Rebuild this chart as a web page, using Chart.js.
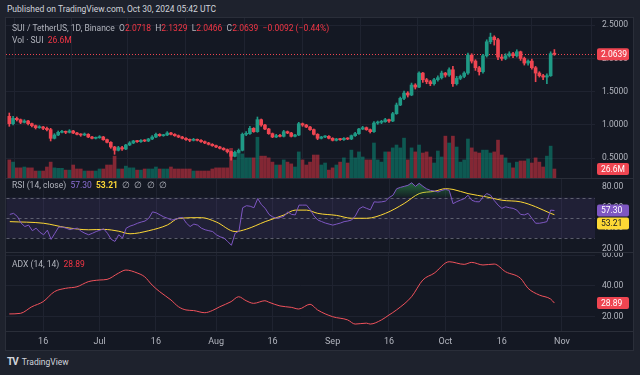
<!DOCTYPE html>
<html>
<head>
<meta charset="utf-8">
<script src="https://cdn.jsdelivr.net/npm/chart.js@4.4.1/dist/chart.umd.min.js"></script>
<style>
    html, body { margin: 0; padding: 0; width: 640px; height: 375px; overflow: hidden; background: #1e222d; font-family: Roboto, 'Liberation Sans', sans-serif; }
    #published { position: absolute; left: 7px; top: 4px; font-size: 8.5px; color: #d1d4dc; white-space: nowrap; }
    #panel { position: absolute; left: 5px; top: 17px; width: 629px; height: 334px; box-sizing: border-box; background: #141823; border: 1px solid #2a2e39; }
    canvas { position: absolute; }
    .sep { position: absolute; left: 6px; width: 627px; height: 1px; background: #2a2e39; }
    .legend { position: absolute; left: 12px; font-size: 8.5px; color: #b2b5be; white-space: nowrap; line-height: 11px; }
    .legend span { margin-left: 0; }
    .r { color: #f23645; }
    .p { color: #8c6fd6; }
    .yl { color: #fdd835; font-weight: bold; }
    #footer { position: absolute; left: 7px; top: 356px; font-size: 8.5px; color: #d1d4dc; white-space: nowrap; }
    #footer b { font-size: 10px; letter-spacing: -1px; margin-right: 4px; }
</style>
</head>
<body>
<div id="published">Published on TradingView.com, Oct 30, 2024 05:42 UTC</div>
<div id="panel"></div>

<canvas id="pricePane" width="627" height="160" style="left:6px;top:18px"></canvas>
<canvas id="rsiPane" width="627" height="75" style="left:6px;top:178px"></canvas>
<canvas id="adxPane" width="627" height="97" style="left:6px;top:253px"></canvas>

<div class="sep" style="top:178px"></div>
<div class="sep" style="top:252px"></div>
<div class="sep" style="top:331px"></div>

<div class="legend" style="top:23px">SUI / TetherUS, 1D, Binance &nbsp;O<span class="r">2.0718</span> &nbsp;H<span class="r">2.1329</span> &nbsp;L<span class="r">2.0466</span> &nbsp;C<span class="r">2.0639</span> &nbsp;<span class="r">−0.0092 (−0.44%)</span></div>
<div class="legend" style="top:35px">Vol · SUI &nbsp;<span class="r">26.6M</span></div>
<div class="legend" style="top:180px">RSI (14, close) &nbsp;<span class="p">57.30</span> &nbsp;<span class="yl">53.21</span> &nbsp;∅ &nbsp;∅ &nbsp;∅ &nbsp;∅</div>
<div class="legend" style="top:259px">ADX (14, 14) &nbsp;<span class="r">28.89</span></div>

<div id="footer"><b>TV</b>TradingView</div>

<script>
// day index 0 = Jun 7 2024, last = Oct 30 2024
const firstOpen = 1.13;
const closes = [
    1.02, 1.10, 1.08, 1.04, 1.06, 1.02, 0.99, 0.96, 0.97, 0.95,
    0.93, 0.80, 0.85, 0.89, 0.90, 0.89, 0.91, 0.88, 0.86, 0.85,
    0.86, 0.82, 0.80, 0.81, 0.82, 0.78, 0.74, 0.67, 0.62, 0.66,
    0.64, 0.70, 0.73, 0.76, 0.75, 0.77, 0.76, 0.79, 0.82, 0.86,
    0.84, 0.85, 0.88, 0.86, 0.84, 0.82, 0.80, 0.78, 0.77, 0.78,
    0.77, 0.75, 0.73, 0.71, 0.69, 0.67, 0.65, 0.63, 0.60, 0.53,
    0.59, 0.62, 0.86, 0.87, 0.95, 0.90, 1.08, 1.00, 0.94, 0.87,
    0.82, 0.84, 0.83, 0.90, 0.88, 0.83, 0.85, 1.02, 1.00, 0.97,
    0.93, 0.86, 0.80, 0.82, 0.83, 0.80, 0.77, 0.79, 0.78, 0.80,
    0.79, 0.84, 0.87, 0.94, 0.96, 0.93, 0.90, 1.03, 1.04, 1.05,
    1.08, 1.06, 1.17, 1.30, 1.40, 1.48, 1.45, 1.60, 1.57, 1.78,
    1.68, 1.65, 1.62, 1.68, 1.71, 1.78, 1.75, 1.83, 1.62, 1.70,
    1.73, 1.78, 2.05, 1.96, 1.86, 1.80, 2.04, 2.25, 2.32, 2.28,
    2.02, 2.00, 2.04, 2.07, 2.04, 2.10, 2.00, 1.93, 1.96, 1.86,
    1.78, 1.74, 1.72, 1.74, 2.0718, 2.0639
];
const highs = [
    1.18, 1.13, 1.12, 1.09, 1.08, 1.07, 1.03, 1.00, 0.99, 0.98,
    0.97, 0.95, 0.87, 0.91, 0.92, 0.91, 0.93, 0.92, 0.89, 0.87,
    0.88, 0.87, 0.83, 0.82, 0.84, 0.83, 0.79, 0.75, 0.68, 0.68,
    0.68, 0.71, 0.75, 0.77, 0.77, 0.78, 0.78, 0.80, 0.84, 0.88,
    0.87, 0.86, 0.90, 0.89, 0.87, 0.85, 0.83, 0.81, 0.79, 0.80,
    0.79, 0.78, 0.76, 0.74, 0.72, 0.70, 0.68, 0.66, 0.64, 0.61,
    0.61, 0.64, 0.88, 0.90, 0.98, 0.96, 1.12, 1.09, 1.01, 0.95,
    0.88, 0.86, 0.86, 0.92, 0.91, 0.89, 0.86, 1.04, 1.03, 1.01,
    0.98, 0.94, 0.87, 0.83, 0.84, 0.84, 0.81, 0.80, 0.80, 0.81,
    0.81, 0.85, 0.89, 0.95, 0.98, 0.97, 0.94, 1.05, 1.06, 1.07,
    1.10, 1.09, 1.19, 1.33, 1.42, 1.51, 1.50, 1.63, 1.62, 1.80,
    1.79, 1.70, 1.67, 1.70, 1.74, 1.81, 1.79, 1.86, 1.88, 1.73,
    1.75, 1.80, 2.08, 2.07, 1.98, 1.88, 2.06, 2.28, 2.38, 2.34,
    2.30, 2.06, 2.07, 2.10, 2.09, 2.13, 2.11, 2.02, 1.98, 1.99,
    1.88, 1.80, 1.76, 1.77, 2.10, 2.1329
];
const lows = [
    0.98, 1.00, 1.06, 1.02, 1.03, 1.00, 0.97, 0.94, 0.95, 0.93,
    0.91, 0.76, 0.79, 0.84, 0.88, 0.87, 0.88, 0.87, 0.85, 0.83,
    0.84, 0.81, 0.79, 0.79, 0.80, 0.77, 0.73, 0.65, 0.56, 0.61,
    0.62, 0.63, 0.69, 0.72, 0.74, 0.74, 0.75, 0.75, 0.78, 0.81,
    0.83, 0.83, 0.84, 0.85, 0.83, 0.81, 0.79, 0.77, 0.75, 0.76,
    0.76, 0.74, 0.72, 0.70, 0.68, 0.66, 0.64, 0.62, 0.58, 0.47,
    0.52, 0.58, 0.61, 0.84, 0.86, 0.89, 0.89, 0.98, 0.93, 0.86,
    0.81, 0.81, 0.82, 0.82, 0.87, 0.82, 0.82, 0.84, 0.98, 0.96,
    0.92, 0.85, 0.78, 0.79, 0.81, 0.79, 0.76, 0.76, 0.77, 0.77,
    0.78, 0.78, 0.83, 0.86, 0.93, 0.92, 0.88, 0.89, 1.01, 1.02,
    1.04, 1.04, 1.05, 1.16, 1.29, 1.38, 1.42, 1.44, 1.54, 1.56,
    1.64, 1.62, 1.59, 1.60, 1.66, 1.69, 1.72, 1.73, 1.58, 1.60,
    1.68, 1.71, 1.76, 1.93, 1.82, 1.75, 1.78, 2.02, 2.22, 2.20,
    1.98, 1.97, 1.98, 2.02, 2.01, 2.02, 1.97, 1.90, 1.90, 1.84,
    1.65, 1.72, 1.68, 1.62, 1.73, 2.0466
];
// volume in millions of SUI
const volumes = [
    53.6, 47.1, 30.0, 30.0, 32.6, 30.0, 30.0, 20.7, 20.7, 20.7,
    32.6, 47.1, 30.0, 28.6, 28.6, 23.4, 23.4, 38.5, 26.7, 26.7,
    20.7, 20.7, 20.7, 20.7, 26.7, 26.7, 38.5, 38.5, 64.8, 26.7,
    26.7, 35.2, 30.0, 30.0, 23.4, 23.4, 26.7, 26.7, 26.7, 32.6,
    26.7, 26.7, 26.7, 32.6, 26.7, 26.7, 26.7, 26.7, 26.7, 20.7,
    20.7, 20.7, 20.7, 20.7, 26.7, 30.0, 30.0, 30.0, 30.0, 87.9,
    53.6, 77.3, 71.4, 59.6, 59.6, 59.6, 120.8, 64.8, 64.8, 59.6,
    47.1, 38.5, 38.5, 53.6, 47.1, 41.8, 32.6, 77.3, 53.6, 38.5,
    47.1, 68.1, 68.1, 38.5, 44.4, 23.4, 30.0, 38.5, 47.1, 59.6,
    44.4, 82.6, 59.6, 77.3, 62.2, 53.6, 53.6, 103.7, 53.6, 47.1,
    77.3, 77.3, 89.2, 97.7, 89.2, 118.1, 53.6, 89.2, 77.3, 97.7,
    74.0, 77.3, 62.2, 44.4, 80.0, 62.2, 124.0, 103.7, 124.0, 91.8,
    47.1, 53.6, 115.5, 89.2, 77.3, 74.0, 82.6, 82.6, 74.0, 77.3,
    112.2, 68.1, 59.6, 44.4, 30.0, 47.1, 50.4, 50.4, 56.3, 44.4,
    59.6, 47.1, 32.6, 64.8, 94.4, 26.6
];
const rsi = [
    53.5, 54.5, 51.5, 45, 41.6, 43, 37.5, 40, 36, 33.5,
    38, 29, 35, 41, 41, 40, 38.5, 39.5, 40, 37,
    35, 33.5, 35, 36.7, 38, 39.3, 35, 29, 27, 33.5,
    30.3, 40, 42, 43.2, 44.8, 46, 47, 49.7, 56, 55,
    53, 51, 49.7, 48, 48.5, 50, 50.5, 45, 41.6, 44,
    43, 40, 38.4, 37.5, 36.7, 33.5, 31.5, 30.3, 27, 23.2,
    35, 37, 60, 62, 61.5, 60, 69, 63, 59.4, 53.5,
    51, 49.7, 50.5, 51.5, 56, 53.5, 53, 62.6, 62.6, 62.6,
    58, 52, 48, 46.5, 45, 44, 43, 44, 45, 46.4,
    47, 48, 52, 59, 61, 59.4, 58, 65.8, 65.5, 65.8,
    66.5, 70, 72.3, 78.7, 80, 81, 82, 84.5, 81, 84,
    81, 78.5, 77, 76.5, 75.5, 77, 78, 77, 64, 66,
    67.5, 69, 72.3, 67.4, 66, 65.8, 70.6, 73.9, 72.3, 67,
    62.6, 59.4, 61, 60, 59.4, 57.7, 53.5, 53, 54.5, 49.7,
    44.8, 44.8, 45.5, 46.4, 57.7, 57.3
];
// RSI moving average, read at these days
const maDays = [0, 9, 15, 21, 25, 29, 32, 37, 42, 45, 51, 55, 60, 63, 68, 73, 76, 79, 82, 87, 91, 95, 100, 105, 109, 113, 116, 118, 122, 127, 131, 136, 140, 144, 145];
const maValues = [46.4, 44.8, 40.6, 38.4, 38.8, 37, 34.5, 37.5, 43.2, 49.7, 50.3, 46, 36.7, 39, 46.4, 52.9, 57.7, 57.7, 54.5, 52.5, 49.7, 49.7, 54.5, 64.2, 73.9, 76.1, 78.7, 78, 73.9, 70.6, 67.4, 65.8, 61, 54.5, 53.21];
// ADX, read at these days
const adxDays = [0, 3, 6, 9, 12, 15, 18, 21, 24, 26, 29, 31, 34, 36, 38, 40, 43, 45, 47, 49, 52, 54, 56, 59, 61, 63, 65, 68, 69, 72, 75, 77, 80, 82, 86, 90, 92, 95, 96, 99, 101, 103, 107, 110, 113, 117, 121, 123, 126, 129, 132, 136, 138, 141, 144, 145];
const adxValues = [21.8, 22.2, 26.5, 29.8, 36.3, 38.5, 39.5, 42.8, 43.9, 44.3, 48.3, 50.4, 48.5, 46, 40.6, 36.3, 30.9, 26.5, 24.4, 24, 22.6, 24, 26.5, 29.8, 33, 30.4, 28.7, 30.4, 29.5, 27, 26.1, 25, 28.1, 24.4, 20, 17.9, 15.2, 15.8, 15.2, 17.9, 21.1, 24.4, 33, 43.9, 48.3, 55.8, 54.1, 55.4, 53.7, 54.3, 49.3, 45, 38.5, 34.1, 31.5, 28.89];

const tickDays = [9, 24, 39, 55, 70, 86, 101, 116, 131, 147];
const tickLabels = ['16', 'Jul', '16', 'Aug', '16', 'Sep', '16', 'Oct', '16', 'Nov'];
const rsiLevels = [70, 50, 30];

// view settings
const xMin = -0.88, xMax = 155.8;
const FONT = "Roboto, 'Liberation Sans', sans-serif";
const UP = '#1f9a86', DOWN = '#ef4551';
const UP_VOL = 'rgba(8,153,129,0.5)', DOWN_VOL = 'rgba(242,54,69,0.5)';
const GRID = '#1f2330';
const TEXT = '#b2b5be';

const opens = closes.map((c, i) => i === 0 ? firstOpen : closes[i - 1]);
const isUp = closes.map((c, i) => c >= opens[i]);
const last = closes.length - 1;

function xAxis(showLabels) {
    return {
        type: 'linear', min: xMin, max: xMax, offset: false,
        grid: { color: GRID, drawTicks: false },
        border: { display: false },
        ticks: {
            display: showLabels, color: TEXT, padding: 5, autoSkip: false, maxRotation: 0,
            font: { size: 9, family: FONT },
            callback: (v, idx) => tickLabels[idx]
        },
        afterBuildTicks: s => { s.ticks = tickDays.map(v => ({ value: v })); },
        afterFit: s => { s.height = showLabels ? 19 : 0; s.paddingLeft = 0; s.paddingRight = 0; }
    };
}

function yAxis(min, max, step, digits, showGrid) {
    return {
        position: 'right', min, max,
        grid: { display: showGrid, color: GRID, drawTicks: false },
        border: { display: false },
        ticks: {
            stepSize: step, includeBounds: false, color: TEXT, padding: 7,
            font: { size: 8.5, family: FONT },
            callback: v => v.toFixed(digits)
        },
        afterFit: s => { s.width = 38; s.paddingTop = 0; s.paddingBottom = 0; }
    };
}

// last-value boxes on the price scale
const axisLabels = {
    id: 'axisLabels',
    afterDraw(chart, args, opts) {
        const { ctx, chartArea: a } = chart;
        const h = 12;
        let prevBottom = -Infinity;
        ctx.save();
        ctx.font = '8.5px ' + FONT;
        ctx.textBaseline = 'middle';
        (opts.items || []).forEach(it => {
            let cy = chart.scales[it.axis].getPixelForValue(it.value);
            if (cy - h / 2 < prevBottom + 1) cy = prevBottom + 1 + h / 2;
            ctx.fillStyle = it.bg;
            ctx.beginPath();
            ctx.roundRect(a.right + 2, cy - h / 2, 32, h, 2);
            ctx.fill();
            ctx.fillStyle = it.fg;
            ctx.fillText(it.text, a.right + 6, cy + 0.5);
            prevBottom = cy + h / 2;
        });
        ctx.restore();
    }
};

const lastPriceLine = {
    id: 'lastPriceLine',
    beforeDatasetsDraw(chart) {
        const { ctx, chartArea: a, scales: { y } } = chart;
        const py = Math.round(y.getPixelForValue(closes[last])) + 0.5;
        ctx.save();
        ctx.strokeStyle = DOWN;
        ctx.lineWidth = 1;
        ctx.setLineDash([1, 2]);
        ctx.beginPath();
        ctx.moveTo(a.left, py);
        ctx.lineTo(a.right, py);
        ctx.stroke();
        ctx.restore();
    }
};

const rsiBand = {
    id: 'rsiBand',
    beforeDatasetsDraw(chart) {
        const { ctx, chartArea: a, scales: { y } } = chart;
        const top = y.getPixelForValue(rsiLevels[0]);
        const bot = y.getPixelForValue(rsiLevels[2]);
        ctx.save();
        ctx.fillStyle = 'rgba(126,87,194,0.12)';
        ctx.fillRect(a.left, top, a.right - a.left, bot - top);
        ctx.strokeStyle = 'rgba(120,123,134,0.7)';
        ctx.lineWidth = 1;
        ctx.setLineDash([3, 3]);
        rsiLevels.forEach(v => {
            const py = Math.round(y.getPixelForValue(v)) + 0.5;
            ctx.beginPath();
            ctx.moveTo(a.left, py);
            ctx.lineTo(a.right, py);
            ctx.stroke();
        });
        ctx.restore();
    }
};

const common = {
    responsive: false,
    animation: false,
    events: [],
    layout: { padding: 0 },
    plugins: { legend: { display: false }, tooltip: { enabled: false } }
};

// --- Price + volume pane ---
const candleColors = isUp.map(u => u ? UP : DOWN);
new Chart(document.getElementById('pricePane'), {
    type: 'bar',
    data: {
        datasets: [
            {
                data: volumes.map((v, i) => ({ x: i, y: v })),
                yAxisID: 'yv',
                backgroundColor: isUp.map(u => u ? UP_VOL : DOWN_VOL),
                barThickness: 3, grouped: false, order: 3
            },
            {
                data: closes.map((c, i) => ({ x: i, y: [lows[i], highs[i]] })),
                backgroundColor: candleColors,
                barThickness: 1, grouped: false, order: 2
            },
            {
                data: closes.map((c, i) => ({ x: i, y: [opens[i], c] })),
                backgroundColor: candleColors,
                barThickness: 3, minBarLength: 1, grouped: false, order: 1
            }
        ]
    },
    options: {
        ...common,
        scales: {
            x: xAxis(false),
            y: yAxis(0.204, 2.607, 0.5, 4, true),
            yv: { display: false, min: 0, max: 474 }
        },
        plugins: {
            ...common.plugins,
            axisLabels: {
                items: [
                    { axis: 'y', value: closes[last], text: closes[last].toFixed(4), bg: DOWN, fg: '#ffffff' },
                    { axis: 'yv', value: volumes[last], text: volumes[last].toFixed(1) + 'M', bg: DOWN, fg: '#ffffff' }
                ]
            }
        }
    },
    plugins: [lastPriceLine, axisLabels]
});

// --- RSI pane ---
const rsiChart = new Chart(document.getElementById('rsiPane'), {
    type: 'line',
    data: {
        datasets: [
            {
                data: rsi.map((v, i) => ({ x: i, y: v })),
                borderColor: '#7e57c2', borderWidth: 1, pointRadius: 0,
                fill: { target: { value: rsiLevels[0] }, above: 'rgba(46,160,80,0.35)', below: 'rgba(0,0,0,0)' }
            },
            {
                data: maDays.map((d, k) => ({ x: d, y: maValues[k] })),
                borderColor: '#fdd835', borderWidth: 1, pointRadius: 0,
                cubicInterpolationMode: 'monotone', fill: false
            }
        ]
    },
    options: {
        ...common,
        scales: {
            x: xAxis(false),
            y: yAxis(16.13, 88.7, 20, 2, false)
        },
        plugins: {
            ...common.plugins,
            axisLabels: {
                items: [
                    { axis: 'y', value: rsi[last], text: rsi[last].toFixed(2), bg: '#7e57c2', fg: '#ffffff' },
                    { axis: 'y', value: maValues[maValues.length - 1], text: maValues[maValues.length - 1].toFixed(2), bg: '#fdd835', fg: '#131722' }
                ]
            }
        }
    },
    plugins: [rsiBand, axisLabels]
});

// overbought gradient, built from the pane's own scale
(() => {
    const y = rsiChart.scales.y;
    const g = rsiChart.ctx.createLinearGradient(0, y.getPixelForValue(86), 0, y.getPixelForValue(rsiLevels[0]));
    g.addColorStop(0, 'rgba(46,160,80,0.65)');
    g.addColorStop(1, 'rgba(46,160,80,0.05)');
    rsiChart.data.datasets[0].fill.above = g;
    rsiChart.update('none');
})();

// --- ADX pane ---
new Chart(document.getElementById('adxPane'), {
    type: 'line',
    data: {
        datasets: [{
            data: adxDays.map((d, k) => ({ x: d, y: adxValues[k] })),
            borderColor: '#f0525c', borderWidth: 1, pointRadius: 0,
            cubicInterpolationMode: 'monotone', fill: false
        }]
    },
    options: {
        ...common,
        scales: {
            x: xAxis(true),
            y: yAxis(10.68, 61.5, 20, 2, true)
        },
        plugins: {
            ...common.plugins,
            axisLabels: {
                items: [
                    { axis: 'y', value: adxValues[adxValues.length - 1], text: adxValues[adxValues.length - 1].toFixed(2), bg: DOWN, fg: '#ffffff' }
                ]
            }
        }
    },
    plugins: [axisLabels]
});
</script>
</body>
</html>
